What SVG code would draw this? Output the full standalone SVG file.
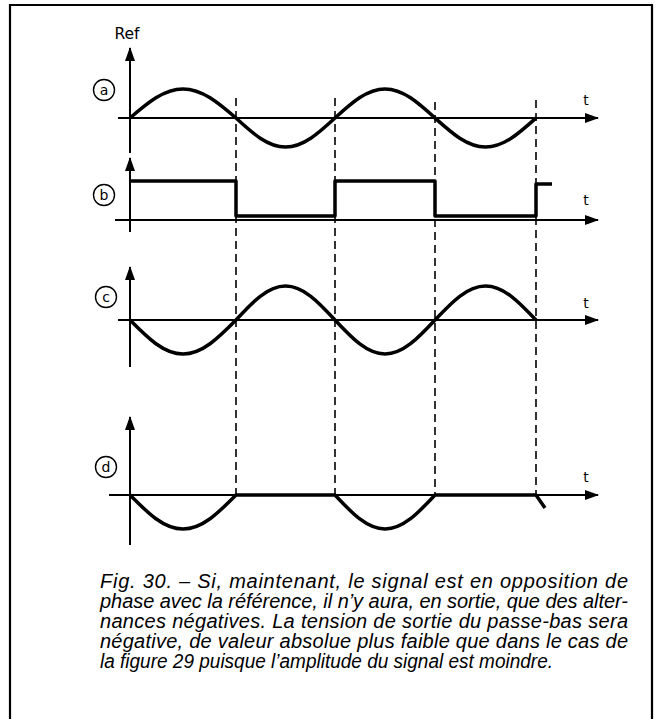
<svg xmlns="http://www.w3.org/2000/svg" width="659" height="719" viewBox="0 0 659 719">
<style>
.axis{stroke:#000;stroke-width:2;fill:none}
.wave{stroke:#000;stroke-width:3.5;fill:none;stroke-linejoin:round}
.dash{stroke:#000;stroke-width:1.6;stroke-dasharray:8 5;fill:none}
.lbl{font-family:"DejaVu Sans","Liberation Sans",sans-serif;font-size:14px;fill:#000}
.ref{font-family:"DejaVu Sans","Liberation Sans",sans-serif;font-size:15.5px;fill:#000}
.circ{stroke:#000;stroke-width:1.4;fill:none}
.cap{font-family:"Liberation Sans","DejaVu Sans",sans-serif;font-style:italic;font-size:20px;fill:#000}
</style>
<defs>
<marker id="ah" viewBox="0 0 14 10" refX="13" refY="5" markerWidth="14" markerHeight="10" markerUnits="userSpaceOnUse" orient="auto">
<path d="M0,0 L14,5 L0,10 Z" fill="#000"/>
</marker>
</defs>
<path d="M10,719 L10,5 L652,5 L652,719" fill="none" stroke="#000" stroke-width="2.2"/>

<g id="connectors">
<line class="dash" x1="236" y1="98" x2="236" y2="495"/>
<line class="dash" x1="335" y1="98" x2="335" y2="495"/>
<line class="dash" x1="435" y1="102" x2="435" y2="495"/>
<line class="dash" x1="536" y1="100" x2="536" y2="495"/>
</g>

<g id="ref-label"><text class="ref" x="127" y="39" text-anchor="middle">Ref</text></g>

<g id="graph-a">
<line class="axis" x1="130" y1="153" x2="130" y2="48" marker-end="url(#ah)"/>
<line class="axis" x1="118" y1="118" x2="598" y2="118" marker-end="url(#ah)"/>
<circle class="circ" cx="104" cy="90" r="10.5"/>
<text class="lbl" x="104" y="95" text-anchor="middle">a</text>
<text class="lbl" x="586" y="105" text-anchor="middle">t</text>
<path class="wave" d="M130,118 C147.7,102.8 163.8,89 183,89 C202.2,89 218.3,102.8 236,118 C252.5,133.2 267.6,147 285.5,147 C303.4,147 318.5,133.2 335,118 C351.7,102.8 366.9,89 385,89 C403.1,89 418.3,102.8 435,118 C451.9,133.2 467.2,147 485.5,147 C503.8,147 519.1,133.2 536,118"/>
</g>

<g id="graph-b">
<line class="axis" x1="130" y1="232" x2="130" y2="158" marker-end="url(#ah)"/>
<line class="axis" x1="115" y1="220" x2="598" y2="220" marker-end="url(#ah)"/>
<circle class="circ" cx="104" cy="195" r="10.5"/>
<text class="lbl" x="104" y="200" text-anchor="middle">b</text>
<text class="lbl" x="586" y="205" text-anchor="middle">t</text>
<path class="wave" stroke-linejoin="miter" d="M130,181 L236,181 L236,216 L335,216 L335,181 L435,181 L435,216 L536,216 L536,184 L552,184"/>
</g>

<g id="graph-c">
<line class="axis" x1="130" y1="367" x2="130" y2="267" marker-end="url(#ah)"/>
<line class="axis" x1="118" y1="320" x2="598" y2="320" marker-end="url(#ah)"/>
<circle class="circ" cx="106" cy="297" r="10.5"/>
<text class="lbl" x="106" y="302" text-anchor="middle">c</text>
<text class="lbl" x="586" y="308" text-anchor="middle">t</text>
<path class="wave" d="M130,320 C147.7,337.9 163.8,354 183,354 C202.2,354 218.3,337.9 236,320 C252.5,302.1 267.6,286 285.5,286 C303.4,286 318.5,302.1 335,320 C351.7,337.9 366.9,354 385,354 C403.1,354 418.3,337.9 435,320 C451.9,302.1 467.2,286 485.5,286 C503.8,286 519.1,302.1 536,320"/>
</g>

<g id="graph-d">
<line class="axis" x1="130" y1="545" x2="130" y2="417" marker-end="url(#ah)"/>
<line class="axis" x1="109" y1="495" x2="598" y2="495" marker-end="url(#ah)"/>
<circle class="circ" cx="106" cy="467" r="10.5"/>
<text class="lbl" x="106" y="472" text-anchor="middle">d</text>
<text class="lbl" x="586" y="482" text-anchor="middle">t</text>
<path class="wave" d="M130,495 C147.7,512.9 163.8,529 183,529 C202.2,529 218.3,512.9 236,495 L335,495 C351.7,512.9 366.9,529 385,529 C403.1,529 418.3,512.9 435,495 L536,495 L545,508"/>
</g>

<g id="caption">
<text class="cap" x="100" y="588" textLength="528" lengthAdjust="spacing">Fig. 30. – Si, maintenant, le signal est en opposition de</text>
<text class="cap" x="100" y="608" textLength="528" lengthAdjust="spacing">phase avec la référence, il n’y aura, en sortie, que des alter-</text>
<text class="cap" x="100" y="628" textLength="528" lengthAdjust="spacing">nances négatives. La tension de sortie du passe-bas sera</text>
<text class="cap" x="100" y="648" textLength="528" lengthAdjust="spacing">négative, de valeur absolue plus faible que dans le cas de</text>
<text class="cap" x="100" y="668" textLength="453" lengthAdjust="spacingAndGlyphs">la figure 29 puisque l’amplitude du signal est moindre.</text>
</g>
</svg>
